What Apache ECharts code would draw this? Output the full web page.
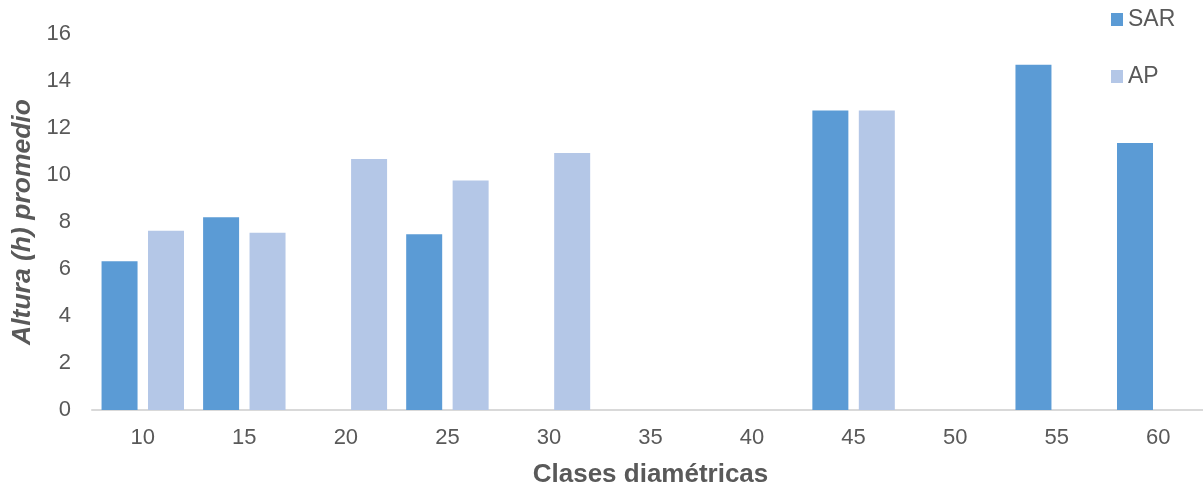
<!DOCTYPE html>
<html>
<head>
<meta charset="utf-8">
<script src="https://cdn.jsdelivr.net/npm/echarts@6/dist/echarts.min.js"></script>
<style>
  html, body { margin: 0; padding: 0; background: #fff; }
  #chart { width: 1203px; height: 488px; }
</style>
</head>
<body>
<div id="chart"></div>
<script>
// Diameter classes and mean height per group
const categories = ['10', '15', '20', '25', '30', '35', '40', '45', '50', '55', '60'];
const sarValues = [6.33, 8.2, null, 7.48, null, null, null, 12.75, null, 14.69, 11.36];
const apValues = [7.63, 7.54, 10.68, 9.77, 10.94, null, null, 12.75, null, null, null];
const yTicks = { min: 0, max: 16, interval: 2 };

const FONT = '"Liberation Sans", Arial, sans-serif';
const TEXT = '#595959';

const chart = echarts.init(document.getElementById('chart'), null, { renderer: 'canvas' });
chart.setOption({
  backgroundColor: '#ffffff',
  animation: false,
  textStyle: { fontFamily: FONT, color: TEXT },
  legend: {
    orient: 'vertical',
    left: 1111,
    top: 8,
    padding: 0,
    itemWidth: 12,
    itemHeight: 13,
    itemGap: 34,
    icon: 'rect',
    textStyle: { fontFamily: FONT, color: TEXT, fontSize: 23, lineHeight: 22, padding: [0, 0, 0, 0] },
    data: ['SAR', 'AP']
  },
  grid: {
    left: 92, top: 34, width: 1117, bottom: 78,
    containLabel: false,
    outerBoundsMode: 'none'
  },
  xAxis: {
    type: 'category',
    data: categories,
    name: 'Clases diamétricas',
    nameLocation: 'middle',
    nameGap: 52,
    nameMoveOverlap: false,
    nameTextStyle: { fontFamily: FONT, color: TEXT, fontSize: 26, fontWeight: 'bold' },
    axisLine: { show: true, lineStyle: { color: '#D9D9D9', width: 2 } },
    axisTick: { show: false },
    axisLabel: { color: TEXT, fontSize: 22, margin: 17, fontFamily: FONT }
  },
  yAxis: {
    type: 'value',
    min: yTicks.min,
    max: yTicks.max,
    interval: yTicks.interval,
    name: 'Altura (h) promedio',
    nameLocation: 'middle',
    nameGap: 56,
    nameRotate: 90,
    nameMoveOverlap: false,
    nameTextStyle: { fontFamily: FONT, color: TEXT, fontSize: 26.5, fontWeight: 'bold', fontStyle: 'italic' },
    axisLine: { show: false },
    axisTick: { show: false },
    splitLine: { show: false },
    axisLabel: { color: TEXT, fontSize: 22, margin: 21, fontFamily: FONT }
  },
  series: [
    {
      name: 'SAR',
      type: 'bar',
      data: sarValues,
      barWidth: 36,
      barGap: '29%',
      itemStyle: { color: '#5B9BD5' }
    },
    {
      name: 'AP',
      type: 'bar',
      data: apValues,
      barWidth: 36,
      barGap: '29%',
      itemStyle: { color: '#B4C7E7' }
    }
  ]
});
</script>
</body>
</html>
